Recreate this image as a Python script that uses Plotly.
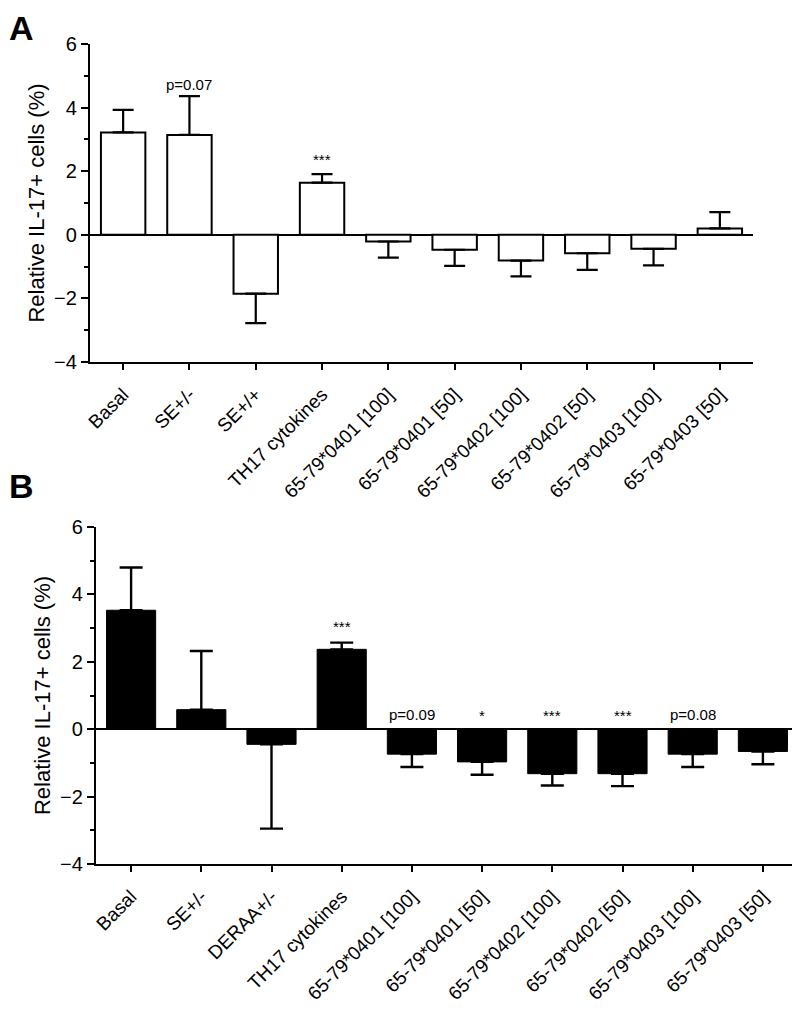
import plotly.graph_objects as go

# ---- data ----
cats_a = ["Basal", "SE+/-", "SE+/+", "TH17 cytokines", "65-79*0401 [100]", "65-79*0401 [50]",
          "65-79*0402 [100]", "65-79*0402 [50]", "65-79*0403 [100]", "65-79*0403 [50]"]
mean_a = [3.22, 3.14, -1.85, 1.64, -0.21, -0.47, -0.81, -0.58, -0.44, 0.20]
sem_a = [0.71, 1.22, 0.93, 0.27, 0.51, 0.51, 0.50, 0.52, 0.52, 0.51]
sig_a = ["", "p=0.07", "", "***", "", "", "", "", "", ""]
sig_a_y = [None, 4.72, None, 2.36, None, None, None, None, None, None]

cats_b = ["Basal", "SE+/-", "DERAA+/-", "TH17 cytokines", "65-79*0401 [100]", "65-79*0401 [50]",
          "65-79*0402 [100]", "65-79*0402 [50]", "65-79*0403 [100]", "65-79*0403 [50]"]
mean_b = [3.53, 0.58, -0.45, 2.37, -0.74, -0.97, -1.32, -1.32, -0.74, -0.66]
sem_b = [1.27, 1.74, 2.50, 0.20, 0.38, 0.38, 0.35, 0.37, 0.38, 0.38]
sig_b = ["", "", "", "***", "p=0.09", "*", "***", "***", "p=0.08", ""]
sig_b_y = [None, None, None, 3.05, 0.44, 0.40, 0.40, 0.40, 0.44, None]

yticks = [-4, -2, 0, 2, 4, 6]
FONT = "Arial, Liberation Sans, sans-serif"

# page has an 8px body margin; figure size / domains are set in figure pixels
W, H, OFF = 792, 1007, 8


def dx(p0, p1):
    return [(p0 - OFF) / W, (p1 - OFF) / W]


def dy(top, bottom):
    return [1 - (bottom - OFF) / H, 1 - (top - OFF) / H]


def err_parts(means, sems):
    plus = [s if m >= 0 else 0 for m, s in zip(means, sems)]
    minus = [s if m < 0 else 0 for m, s in zip(means, sems)]
    return plus, minus


fig = go.Figure()

pa, ma = err_parts(mean_a, sem_a)
fig.add_trace(go.Bar(
    x=cats_a, y=mean_a, width=0.67, xaxis="x", yaxis="y",
    marker=dict(color="white", line=dict(color="black", width=2)),
    error_y=dict(type="data", symmetric=False, array=pa, arrayminus=ma,
                 color="black", thickness=2.2, width=10.5),
    showlegend=False))

pb, mb = err_parts(mean_b, sem_b)
fig.add_trace(go.Bar(
    x=cats_b, y=mean_b, width=0.70, xaxis="x2", yaxis="y2",
    marker=dict(color="black", line=dict(color="black", width=1)),
    error_y=dict(type="data", symmetric=False, array=pb, arrayminus=mb,
                 color="black", thickness=2.4, width=11.5),
    showlegend=False))

annotations = []
for c, t, yy in zip(cats_a, sig_a, sig_a_y):
    if t:
        annotations.append(dict(x=c, y=yy, xref="x", yref="y", text=t, showarrow=False,
                                font=dict(family=FONT, size=15, color="black")))
for c, t, yy in zip(cats_b, sig_b, sig_b_y):
    if t:
        annotations.append(dict(x=c, y=yy, xref="x2", yref="y2", text=t, showarrow=False,
                                font=dict(family=FONT, size=15, color="black")))
annotations.append(dict(x=0.0, y=1.0, xref="paper", yref="paper", xanchor="left", yanchor="top",
                        text="<b>A</b>", showarrow=False, borderpad=0,
                        font=dict(family=FONT, size=34, color="black")))
annotations.append(dict(x=0.0, y=1 - (466 - OFF) / H, xref="paper", yref="paper", xanchor="left",
                        yanchor="top", text="<b>B</b>", showarrow=False, borderpad=0,
                        font=dict(family=FONT, size=34, color="black")))


def xax(domain, anchor):
    return dict(domain=domain, anchor=anchor, type="category", range=[-0.5, 9.5],
                automargin=False,
                showline=True, linecolor="black", linewidth=2.2, mirror=False,
                ticks="outside", ticklen=6, tickwidth=2, tickcolor="black",
                tickangle=-45, tickfont=dict(family=FONT, size=19, color="black"),
                showgrid=False, zeroline=False, ticklabelstandoff=6)


def yax(domain, anchor):
    return dict(domain=domain, anchor=anchor, range=[-4, 6], tickvals=yticks,
                automargin=False,
                showline=True, linecolor="black", linewidth=2.2,
                ticks="outside", ticklen=7, tickwidth=2, tickcolor="black",
                minor=dict(dtick=1, tick0=0, ticks="outside", ticklen=4, tickwidth=2,
                           tickcolor="black", showgrid=False),
                tickfont=dict(family=FONT, size=20, color="black"),
                showgrid=False, zeroline=True, zerolinecolor="black", zerolinewidth=2.4,
                title=dict(text="Relative IL-17+ cells (%)", standoff=3,
                           font=dict(family=FONT, size=22, color="black")))


fig.update_layout(
    width=W, height=H, autosize=False,
    margin=dict(l=0, r=0, t=0, b=0),
    paper_bgcolor="white", plot_bgcolor="white",
    xaxis=xax(dx(90, 753), "y"),
    yaxis=yax(dy(44, 362), "x"),
    xaxis2=xax(dx(96, 798), "y2"),
    yaxis2=yax(dy(527, 864), "x2"),
    annotations=annotations,
    bargap=0.3,
)

fig.write_html("out.html")
